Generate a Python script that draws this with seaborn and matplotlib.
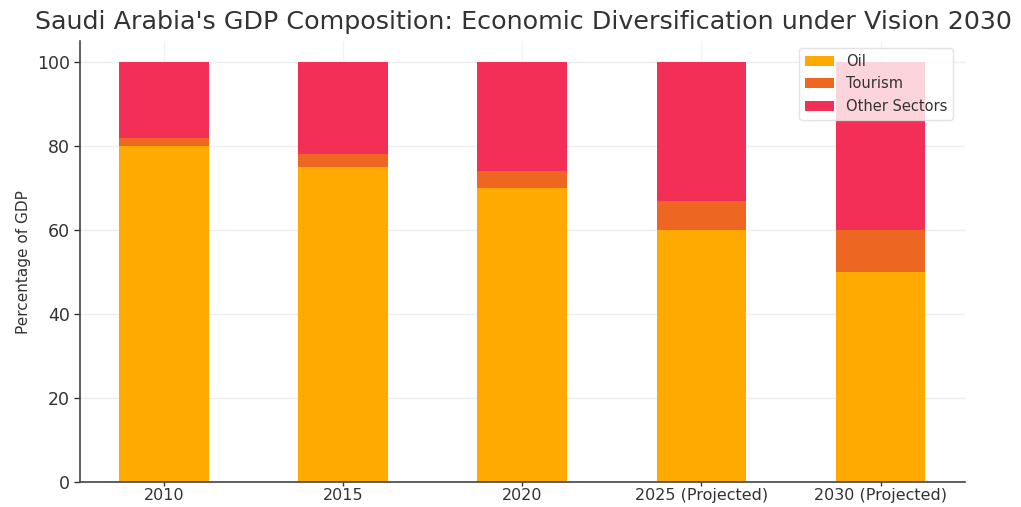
import matplotlib
matplotlib.use("Agg")
import matplotlib.pyplot as plt
import seaborn as sns
import pandas as pd
import numpy as np

years = ["2010", "2015", "2020", "2025 (Projected)", "2030 (Projected)"]
oil = [80, 75, 70, 60, 50]
tourism = [2, 3, 4, 7, 10]
other = [18, 22, 26, 33, 40]

colors = {"Oil": "#FFAA00", "Tourism": "#EE6722", "Other Sectors": "#F32F57"}

sns.set_theme(style="whitegrid")
plt.rcParams["font.family"] = ["DejaVu Sans"]

fig = plt.figure(figsize=(10.21, 5.07), dpi=100)
ax = fig.add_axes([0.078, 0.049, 0.867, 0.870])

oil_a = np.array(oil)
tour_top = oil_a + np.array(tourism)
total = tour_top + np.array(other)

df = pd.DataFrame({"Year": years, "Oil": oil_a, "OilTour": tour_top, "Total": total})

common = dict(data=df, x="Year", saturation=1, width=0.5, ax=ax, linewidth=0, edgecolor="none")
sns.barplot(y="Total", color=colors["Other Sectors"], label="Other Sectors", **common)
sns.barplot(y="OilTour", color=colors["Tourism"], label="Tourism", **common)
sns.barplot(y="Oil", color=colors["Oil"], label="Oil", **common)

ax.set_ylim(0, 105)
ax.set_xlim(-0.47, 4.47)
ax.set_yticks([0, 20, 40, 60, 80, 100])
ax.set_xlabel("")
ax.set_ylabel("Percentage of GDP", fontsize=11, color="#333333")
ax.tick_params(axis="y", labelsize=12.5, colors="#333333", length=4, width=1, left=True, pad=3)
ax.tick_params(axis="x", labelsize=11.5, colors="#333333", length=3, width=1, bottom=True, pad=1)
ax.grid(axis="y", color="#eeeeee", linewidth=1)
ax.grid(axis="x", color="#f3f3f3", linewidth=1)
for s in ["top", "right"]:
    ax.spines[s].set_visible(False)
for s in ["left", "bottom"]:
    ax.spines[s].set_color("#444444")
    ax.spines[s].set_linewidth(1.2)

handles, labels = ax.get_legend_handles_labels()
order = [labels.index("Oil"), labels.index("Tourism"), labels.index("Other Sectors")]
ax.legend([handles[i] for i in order], [labels[i] for i in order], loc="upper right",
          bbox_to_anchor=(0.995, 1.0), fontsize=10.5, frameon=True, framealpha=0.8,
          facecolor="white", edgecolor="#dddddd", labelcolor="#333333")

fig.suptitle("Saudi Arabia's GDP Composition: Economic Diversification under Vision 2030",
             x=0.513, y=0.98, fontsize=18.3, color="#333333")

fig.savefig("out.png", dpi=100)
